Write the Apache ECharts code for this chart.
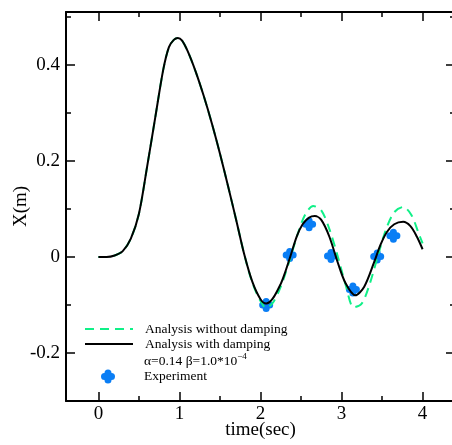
<!DOCTYPE html>
<html>
<head>
<meta charset="utf-8">
<script src="https://cdn.jsdelivr.net/npm/echarts@6/dist/echarts.min.js"></script>
<style>
html,body{margin:0;padding:0;background:#fff;}
#chart{width:452px;height:445px;}
</style>
</head>
<body>
<div id="chart"></div>
<script>
// ---- data ----
const timeUndamped = [0,0.1,0.2,0.3,0.4,0.5,0.6,0.7,0.8,0.87,0.93,0.98,1.03,1.1,1.2,1.3,1.4,1.5,1.6,1.7,1.8,1.9,2.0,2.07,2.15,2.25,2.35,2.45,2.55,2.65,2.75,2.85,2.95,3.05,3.15,3.25,3.35,3.45,3.55,3.65,3.76,3.86,3.95,4.0];
const xUndamped    = [0,0,0.003,0.012,0.038,0.09,0.187,0.289,0.39,0.437,0.452,0.456,0.451,0.429,0.386,0.335,0.278,0.215,0.147,0.077,0.005,-0.054,-0.092,-0.106,-0.096,-0.062,-0.012,0.043,0.088,0.106,0.097,0.058,0.003,-0.058,-0.105,-0.097,-0.055,0.003,0.058,0.093,0.104,0.088,0.05,0.028];

const timeDamped = [0,0.1,0.2,0.3,0.4,0.5,0.6,0.7,0.8,0.87,0.93,0.98,1.03,1.1,1.2,1.3,1.4,1.5,1.6,1.7,1.8,1.9,2.0,2.07,2.15,2.25,2.3,2.37,2.45,2.52,2.6,2.67,2.75,2.85,2.95,3.05,3.17,3.28,3.4,3.48,3.56,3.65,3.76,3.85,3.93,4.0];
const xDamped    = [0,0,0.003,0.012,0.038,0.09,0.187,0.289,0.39,0.437,0.452,0.456,0.451,0.429,0.386,0.335,0.278,0.215,0.147,0.077,0.005,-0.052,-0.088,-0.097,-0.087,-0.056,-0.034,0.002,0.044,0.068,0.082,0.085,0.077,0.042,-0.01,-0.055,-0.08,-0.062,-0.012,0.025,0.052,0.068,0.073,0.064,0.042,0.016];

const timeExp = [2.07,2.36,2.6,2.87,3.14,3.44,3.64];
const xExp    = [-0.1,0.004,0.068,0.002,-0.068,0.001,0.044];

const xMajorTicks = [0,1,2,3,4];
const xMinorTicks = [0.5,1.5,2.5,3.5];
const yMajorTicks = [-0.2,0,0.2,0.4];
const yMinorTicks = [-0.1,0.1,0.3,0.5];

const nameUndamped = 'Analysis without damping';
const nameDamped = 'Analysis with damping';
const nameExp = 'Experiment';

// ---- chart ----
const FONT = 'Liberation Serif';
const X_MIN = -0.4, X_MAX = 4.4, Y_MIN = -0.3, Y_MAX = 0.51;
const plusPath = 'path://M3,3 A3,3 0 0 1 9,3 A3,3 0 0 1 9,9 A3,3 0 0 1 3,9 A3,3 0 0 1 3,3 Z';
const blue = '#0a7ef5';
const green = '#10f088';

function zip(a, b) { return a.map((v, i) => [v, b[i]]); }

function xAx(position, ticks, len, opts) {
  return Object.assign({
    type: 'value', position: position, min: X_MIN, max: X_MAX,
    axisLine: { show: false, onZero: false },
    axisTick: { show: true, inside: true, length: len, customValues: ticks, lineStyle: { color: '#000', width: 1.5 } },
    axisLabel: { show: false },
    splitLine: { show: false }
  }, opts || {});
}
function yAx(position, ticks, len, opts) {
  return Object.assign({
    type: 'value', position: position, min: Y_MIN, max: Y_MAX,
    axisLine: { show: false, onZero: false },
    axisTick: { show: true, inside: true, length: len, customValues: ticks, lineStyle: { color: '#000', width: 1.5 } },
    axisLabel: { show: false },
    splitLine: { show: false }
  }, opts || {});
}

const chart = echarts.init(document.getElementById('chart'), null, { renderer: 'canvas' });
chart.setOption({
  backgroundColor: '#fff',
  animation: false,
  grid: { left: 66, right: -3, top: 12, bottom: 44, containLabel: false, outerBoundsMode: 'none' },
  xAxis: [
    xAx('bottom', xMajorTicks, 9, {
      axisLine: { show: true, onZero: false, lineStyle: { color: '#000', width: 2 } },
      axisLabel: { show: true, customValues: xMajorTicks, fontFamily: FONT, fontSize: 19, color: '#000', margin: 4 },
      name: 'time(sec)', nameLocation: 'middle', nameGap: 20, nameMoveOverlap: false,
      nameTextStyle: { fontFamily: FONT, fontSize: 19, color: '#000' }
    }),
    xAx('bottom', xMinorTicks, 5),
    xAx('top', xMajorTicks, 9, { axisLine: { show: true, onZero: false, lineStyle: { color: '#000', width: 2 } } }),
    xAx('top', xMinorTicks, 5)
  ],
  yAxis: [
    yAx('left', yMajorTicks, 9, {
      axisLine: { show: true, onZero: false, lineStyle: { color: '#000', width: 2 } },
      axisLabel: { show: true, customValues: yMajorTicks, fontFamily: FONT, fontSize: 19, color: '#000', margin: 6 },
      name: 'X(m)', nameLocation: 'middle', nameGap: 35, nameMoveOverlap: false,
      nameTextStyle: { fontFamily: FONT, fontSize: 19, color: '#000' }
    }),
    yAx('left', yMinorTicks, 5),
    yAx('right', yMajorTicks, 9, { axisLine: { show: true, onZero: false, lineStyle: { color: '#000', width: 2 } } }),
    yAx('right', yMinorTicks, 5)
  ],
  legend: [
    {
      data: [nameUndamped, nameDamped],
      orient: 'vertical', left: 84, top: 321.5, padding: 0,
      itemWidth: 48, itemHeight: 10, itemGap: 0,
      selectedMode: false,
      itemStyle: { color: 'rgba(0,0,0,0)', borderWidth: 0, opacity: 0 },
      textStyle: { fontFamily: FONT, fontSize: 13.5, color: '#000', lineHeight: 15, padding: [0, 0, 0, 7] }
    },
    {
      data: [{ name: nameExp, icon: plusPath }],
      orient: 'vertical', left: 101, top: 369, padding: 0,
      itemWidth: 14, itemHeight: 14, itemGap: 0,
      selectedMode: false,
      itemStyle: { opacity: 1 },
      textStyle: { fontFamily: FONT, fontSize: 13.5, color: '#000', lineHeight: 15, padding: [0, 0, 0, 24] }
    }
  ],
  graphic: [
    {
      type: 'text', left: 144, top: 352,
      style: {
        text: '{a|α=0.14 β=1.0*10}{s|−4}',
        rich: {
          a: { fontFamily: FONT, fontSize: 13.5, fill: '#000', lineHeight: 16, verticalAlign: 'bottom' },
          s: { fontFamily: FONT, fontSize: 9, fill: '#000', lineHeight: 16, verticalAlign: 'top', padding: [0, 0, 6, 0] }
        }
      }
    }
  ],
  series: [
    {
      name: nameExp, type: 'scatter', xAxisIndex: 0, yAxisIndex: 0,
      symbol: plusPath, symbolSize: 14,
      itemStyle: { color: blue, opacity: 1 },
      data: zip(timeExp, xExp), z: 2
    },
    {
      name: nameUndamped, type: 'line', xAxisIndex: 0, yAxisIndex: 0,
      smooth: 0.3, symbol: 'none',
      lineStyle: { color: green, width: 2, type: [9, 6] },
      itemStyle: { color: green },
      data: zip(timeUndamped, xUndamped), z: 3
    },
    {
      name: nameDamped, type: 'line', xAxisIndex: 0, yAxisIndex: 0,
      smooth: 0.3, symbol: 'none',
      lineStyle: { color: '#000', width: 2 },
      itemStyle: { color: '#000' },
      data: zip(timeDamped, xDamped), z: 4
    }
  ]
});
</script>
</body>
</html>
